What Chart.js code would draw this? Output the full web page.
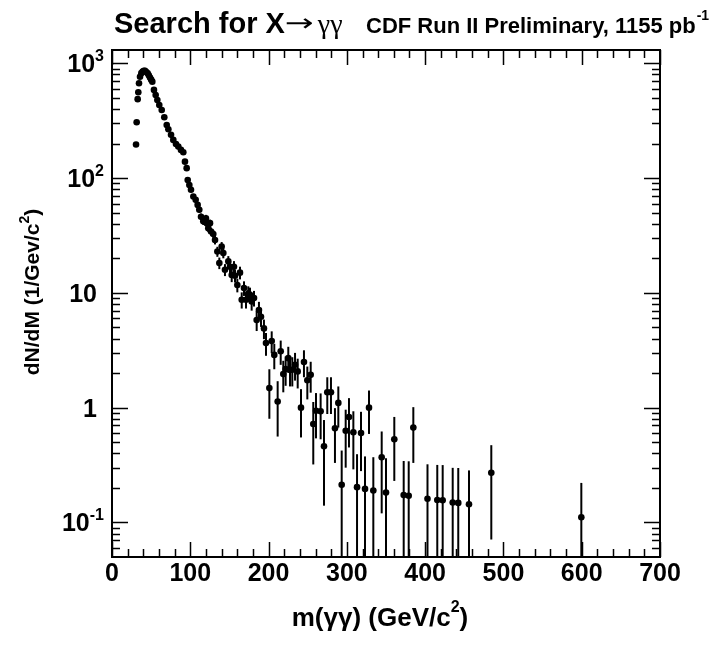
<!DOCTYPE html>
<html>
<head>
<meta charset="utf-8">
<script src="https://cdn.jsdelivr.net/npm/chart.js@4"></script>
<style>
  html, body { margin: 0; padding: 0; background: #fff; }
  #wrap { width: 723px; height: 659px; }
</style>
</head>
<body>
<div id="wrap"><canvas id="chart" width="723" height="659"></canvas></div>
<script>
// diphoton mass spectrum
const masses = [
  30.7, 31.5, 32.8, 33.6, 34.5, 35.8, 37.5, 39.2, 40.7, 42.2, 43.8, 45.6, 47.0, 48.5, 50.0, 51.5,
  53.6, 55.8, 57.9, 60.4, 63.5, 66.8, 69.9, 72.0, 75.4, 78.3, 81.7, 84.7, 88.1, 91.1, 93.2, 95.4,
  96.7, 98.8, 100.9, 103.9, 106.9, 109.4, 111.5, 113.7, 116.6, 120.0, 121.0, 123.0, 125.2, 126.5,
  129.4, 131.6, 134.6, 137.1, 140.1, 142.2, 144.3, 148.6, 150.7, 152.9, 155.8, 157.1, 160.1, 163.5,
  165.7, 168.6, 171.2, 174.1, 176.3, 178.4, 181.4, 184.8, 187.7, 190.3, 194.1, 196.7, 201.0, 204.0,
  207.3, 211.6, 215.5, 218.8, 221.8, 225.2, 227.4, 230.3, 233.8, 237.2, 241.4, 245.2, 249.5, 253.8,
  257.1, 260.6, 266.5, 270.8, 275.0, 279.7, 284.8, 289.1, 293.4, 298.5, 302.7, 308.3, 313.0, 318.1,
  323.2, 328.3, 333.8, 344.5, 350.0, 360.6, 372.6, 379.0, 384.9, 403.0, 415.5, 422.4, 435.2, 442.3,
  456.0, 484.5, 599.5
];
const rates = [
  196, 306, 487, 560, 670, 764, 820, 845, 860, 861, 840, 818, 785, 750, 720, 692,
  586, 529, 479, 433, 392, 339, 290, 266, 238, 215, 198, 188, 176, 168, 139, 122,
  96, 87, 79, 69, 64.6, 58.4, 53, 46, 42, 44.7, 40.5, 36.6, 40.5, 34.2,
  32.5, 28.9, 22.9, 18.2, 25.3, 22.2, 15.9, 18.8, 16.9, 14.3, 16.9, 14.1, 11.7, 15,
  8.7, 11, 8.7, 9.9, 9.6, 8.4, 9, 5.8, 7.1, 6.2, 4.9, 3.65, 1.48, 3.8,
  2.88, 1.13, 3.1, 1.96, 2.17, 2.7, 2.14, 2.14, 2.36, 2.07, 1.0, 2.5, 1.73, 1.93,
  0.72, 0.94, 0.93, 0.46, 1.36, 1.36, 0.66, 1.1, 0.213, 0.63, 0.83, 0.61, 0.203, 0.60,
  0.196, 1.0, 0.19, 0.37, 0.182, 0.53, 0.173, 0.171, 0.67, 0.161, 0.157, 0.156, 0.149, 0.148,
  0.144, 0.271, 0.111
];
const rateErr = [
  5.8, 7.2, 9.1, 9.8, 10.7, 11.4, 11.8, 12, 12.1, 12.1, 11.9, 11.8, 11.6, 11.3, 11.1, 10.8,
  10, 9.5, 9, 8.6, 8.2, 7.6, 7, 6.7, 6.4, 6, 5.8, 5.7, 5.5, 5.3, 4.9, 4.6,
  4, 3.8, 3.7, 3.4, 3.3, 3.2, 3, 3.1, 3, 3.1, 2.9, 2.8, 2.9, 2.7,
  2.7, 2.5, 2.3, 2.1, 2.4, 2.2, 1.9, 2.1, 2, 1.9, 2, 1.8, 1.6, 1.9,
  1.4, 1.6, 1.4, 1.5, 1.5, 1.4, 1.4, 1.15, 1.25, 1.15, 0.95, 0.82, 0.68, 0.82,
  0.72, 0.57, 0.74, 0.6, 0.62, 0.69, 0.61, 0.61, 0.64, 0.6, 0.45, 0.66, 0.55, 0.58,
  0.4, 0.4, 0.4, 0.32, 0.48, 0.48, 0.33, 0.43, 0.21, 0.33, 0.38, 0.32, 0.19, 0.32,
  0.18, 0.41, 0.18, 0.25, 0.18, 0.3, 0.17, 0.17, 0.34, 0.16, 0.16, 0.16, 0.15, 0.15,
  0.14, 0.2, 0.11
];

const xMajorTicks = [0, 100, 200, 300, 400, 500, 600, 700];
const xMinorTicks = [20, 40, 60, 80, 120, 140, 160, 180, 220, 240, 260, 280, 320, 340, 360, 380,
  420, 440, 460, 480, 520, 540, 560, 580, 620, 640, 660, 680];
const yMajorTicks = [0.1, 1, 10, 100, 1000];
const yTickBase = ['10', '1', '10', '10', '10'];
const yTickExp = ['-1', '', '', '2', '3'];
const yMinorTicks = [0.06, 0.07, 0.08, 0.09, 0.2, 0.3, 0.4, 0.5, 0.6, 0.7, 0.8, 0.9,
  2, 3, 4, 5, 6, 7, 8, 9, 20, 30, 40, 50, 60, 70, 80, 90, 200, 300, 400, 500, 600, 700, 800, 900];

const SANS = '"Liberation Sans", Arial, sans-serif';

// error bars go under the markers
const errorBars = {
  id: 'errorBars',
  beforeDatasetsDraw(chart) {
    const { ctx, chartArea: a, scales: { x, y } } = chart;
    ctx.save();
    ctx.beginPath();
    ctx.rect(a.left, a.top, a.right - a.left, a.bottom - a.top);
    ctx.clip();
    ctx.strokeStyle = '#000';
    ctx.lineWidth = 2;
    masses.forEach((m, i) => {
      const px = x.getPixelForValue(m);
      const lo = rates[i] - rateErr[i];
      const yTop = y.getPixelForValue(rates[i] + rateErr[i]);
      const yBot = lo > 0 ? y.getPixelForValue(lo) : a.bottom + 5;
      ctx.beginPath();
      ctx.moveTo(px, yTop);
      ctx.lineTo(px, Math.min(yBot, a.bottom + 5));
      ctx.stroke();
    });
    ctx.restore();
  }
};

function drawSup(ctx, base, exp, xRight, baseline, size) {
  ctx.font = `bold ${size}px ${SANS}`;
  const wb = ctx.measureText(base).width;
  let we = 0;
  const supSize = Math.round(size * 0.62);
  if (exp) {
    ctx.font = `bold ${supSize}px ${SANS}`;
    we = ctx.measureText(exp).width;
  }
  ctx.textAlign = 'left';
  ctx.font = `bold ${size}px ${SANS}`;
  ctx.fillText(base, xRight - wb - we, baseline);
  if (exp) {
    ctx.font = `bold ${supSize}px ${SANS}`;
    ctx.fillText(exp, xRight - we, baseline - size * 0.45);
  }
}

// ROOT-style frame: inward ticks on all four sides, labels, titles
const rootFrame = {
  id: 'rootFrame',
  afterDraw(chart) {
    const { ctx, chartArea: a, scales: { x, y } } = chart;
    ctx.save();
    ctx.strokeStyle = '#000';
    ctx.fillStyle = '#000';
    ctx.lineWidth = 1.5;
    ctx.beginPath();
    xMajorTicks.forEach(v => {
      const px = Math.round(x.getPixelForValue(v)) + 0.5;
      ctx.moveTo(px, a.bottom); ctx.lineTo(px, a.bottom - 15);
      ctx.moveTo(px, a.top); ctx.lineTo(px, a.top + 15);
    });
    xMinorTicks.forEach(v => {
      const px = Math.round(x.getPixelForValue(v)) + 0.5;
      ctx.moveTo(px, a.bottom); ctx.lineTo(px, a.bottom - 8);
      ctx.moveTo(px, a.top); ctx.lineTo(px, a.top + 8);
    });
    yMajorTicks.forEach(v => {
      const py = Math.round(y.getPixelForValue(v)) + 0.5;
      ctx.moveTo(a.left, py); ctx.lineTo(a.left + 16, py);
      ctx.moveTo(a.right, py); ctx.lineTo(a.right - 16, py);
    });
    yMinorTicks.forEach(v => {
      const py = Math.round(y.getPixelForValue(v)) + 0.5;
      ctx.moveTo(a.left, py); ctx.lineTo(a.left + 8, py);
      ctx.moveTo(a.right, py); ctx.lineTo(a.right - 8, py);
    });
    ctx.stroke();

    ctx.lineWidth = 2;
    ctx.strokeRect(a.left, a.top, a.right - a.left, a.bottom - a.top);

    // x tick labels
    ctx.font = `bold 25px ${SANS}`;
    ctx.textAlign = 'center';
    ctx.textBaseline = 'alphabetic';
    xMajorTicks.forEach(v => {
      ctx.fillText(String(v), x.getPixelForValue(v), a.bottom + 24);
    });

    // y tick labels
    yMajorTicks.forEach((v, i) => {
      const py = y.getPixelForValue(v);
      drawSup(ctx, yTickBase[i], yTickExp[i], yTickExp[i] ? 104 : 97, py + 9, 25);
    });

    // x title
    ctx.textAlign = 'left';
    ctx.font = `bold 26px ${SANS}`;
    const xt1 = 'm(γγ) (GeV/c';
    const wx1 = ctx.measureText(xt1).width;
    ctx.font = `bold 16px ${SANS}`;
    const wx2 = ctx.measureText('2').width;
    ctx.font = `bold 26px ${SANS}`;
    const wx3 = ctx.measureText(')').width;
    let tx = 380 - (wx1 + wx2 + wx3) / 2;
    ctx.fillText(xt1, tx, 626);
    ctx.font = `bold 16px ${SANS}`;
    ctx.fillText('2', tx + wx1, 612);
    ctx.font = `bold 26px ${SANS}`;
    ctx.fillText(')', tx + wx1 + wx2, 626);

    // y title, rotated
    ctx.save();
    ctx.translate(39, 292);
    ctx.rotate(-Math.PI / 2);
    ctx.font = `bold 21px ${SANS}`;
    const yt1 = 'dN/dM (1/Gev/c';
    const wy1 = ctx.measureText(yt1).width;
    ctx.font = `bold 14px ${SANS}`;
    const wy2 = ctx.measureText('2').width;
    ctx.font = `bold 21px ${SANS}`;
    const wy3 = ctx.measureText(')').width;
    const ty = -(wy1 + wy2 + wy3) / 2;
    ctx.fillText(yt1, ty, 0);
    ctx.font = `bold 14px ${SANS}`;
    ctx.fillText('2', ty + wy1, -10);
    ctx.font = `bold 21px ${SANS}`;
    ctx.fillText(')', ty + wy1 + wy2, 0);
    ctx.restore();

    // title
    let cx = 114;
    ctx.font = `bold 29px ${SANS}`;
    ctx.fillText('Search for X', cx, 33);
    cx += ctx.measureText('Search for X').width;
    ctx.font = `30px "DejaVu Sans", sans-serif`;
    ctx.save();
    ctx.translate(cx, 31);
    ctx.scale(1.15, 0.8);
    ctx.fillText('→', 0, 0);
    ctx.restore();
    cx += 33;
    ctx.font = `28px "Liberation Serif", serif`;
    ctx.fillText('γγ', cx, 33);

    ctx.font = `bold 22px ${SANS}`;
    const sub = 'CDF Run II Preliminary, 1155 pb';
    ctx.fillText(sub, 366, 33);
    const ws = ctx.measureText(sub).width;
    ctx.font = `bold 14px ${SANS}`;
    ctx.fillText('-1', 366 + ws + 1, 20);
    ctx.restore();
  }
};

new Chart(document.getElementById('chart'), {
  type: 'scatter',
  data: {
    datasets: [{
      data: masses.map((m, i) => ({ x: m, y: rates[i] })),
      pointRadius: 3.3,
      pointBackgroundColor: '#000',
      pointBorderColor: '#000',
      pointBorderWidth: 0,
      showLine: false
    }]
  },
  options: {
    responsive: false,
    animation: false,
    layout: { padding: { left: 112, right: 63, top: 50, bottom: 102 } },
    plugins: { legend: { display: false }, tooltip: { enabled: false } },
    scales: {
      x: { type: 'linear', min: 0, max: 700, display: false },
      y: { type: 'logarithmic', min: 0.05, max: 1305, display: false }
    }
  },
  plugins: [errorBars, rootFrame]
});
</script>
</body>
</html>
